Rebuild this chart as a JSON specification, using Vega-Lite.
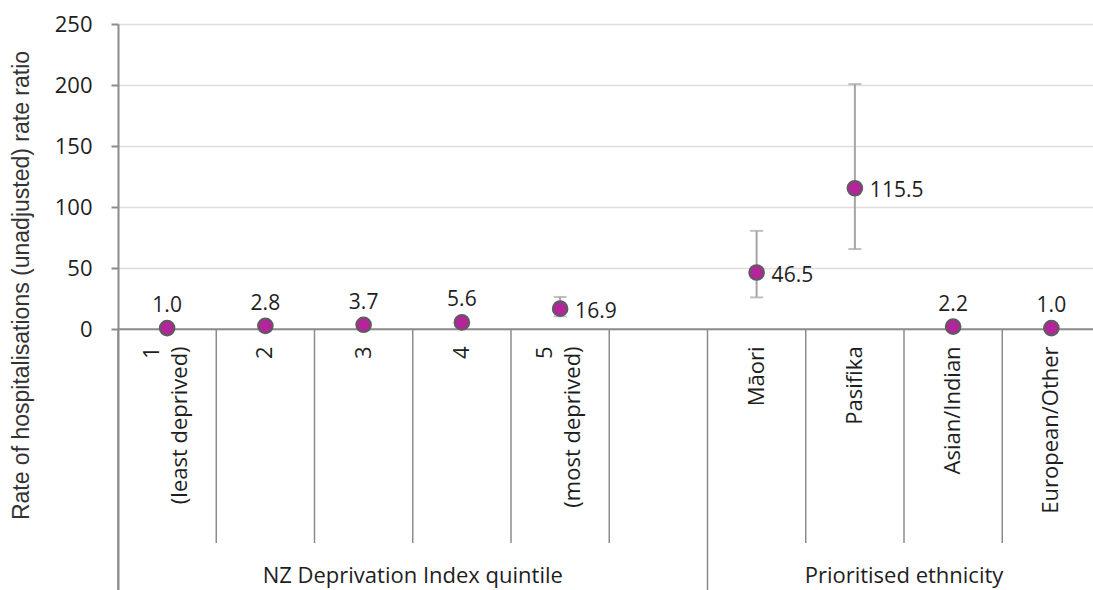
{
  "$schema": "https://vega.github.io/schema/vega-lite/v6.json",
  "width": 975,
  "height": 566,
  "autosize": {"type": "none"},
  "padding": {"left": 118, "top": 24, "right": 0, "bottom": 0},
  "background": "white",
  "config": {
    "view": {"stroke": null},
    "font": "Open Sans",
    "text": {"font": "Open Sans", "fontSize": 21, "color": "#1e1e1e"}
  },
  "datasets": {
    "rates": [
      {"category": "1\n(least deprived)", "group": "NZ Deprivation Index quintile", "pos": 1, "rr": 1.0},
      {"category": "2", "group": "NZ Deprivation Index quintile", "pos": 2, "rr": 2.8},
      {"category": "3", "group": "NZ Deprivation Index quintile", "pos": 3, "rr": 3.7},
      {"category": "4", "group": "NZ Deprivation Index quintile", "pos": 4, "rr": 5.6},
      {"category": "5\n(most deprived)", "group": "NZ Deprivation Index quintile", "pos": 5, "rr": 16.9, "lo": 10.6, "hi": 26.5},
      {"category": "Māori", "group": "Prioritised ethnicity", "pos": 7, "rr": 46.5, "lo": 26.1, "hi": 80.6},
      {"category": "Pasifika", "group": "Prioritised ethnicity", "pos": 8, "rr": 115.5, "lo": 65.7, "hi": 200.8},
      {"category": "Asian/Indian", "group": "Prioritised ethnicity", "pos": 9, "rr": 2.2},
      {"category": "European/Other", "group": "Prioritised ethnicity", "pos": 10, "rr": 1.0}
    ],
    "groups": [
      {"group": "NZ Deprivation Index quintile", "from": 0.5, "to": 6.5},
      {"group": "Prioritised ethnicity", "from": 6.5, "to": 10.5}
    ],
    "dividers": [
      {"at": 1.5}, {"at": 2.5}, {"at": 3.5}, {"at": 4.5}, {"at": 5.5},
      {"at": 7.5}, {"at": 8.5}, {"at": 9.5}
    ]
  },
  "layer": [
    {
      "description": "Value axis with gridlines",
      "data": {"name": "rates"},
      "mark": {"type": "rule", "opacity": 0},
      "encoding": {
        "y": {
          "field": "rr",
          "type": "quantitative",
          "scale": {"domain": [-213.5, 250], "nice": false, "zero": false},
          "axis": {
            "values": [0, 50, 100, 150, 200, 250],
            "title": "Rate of hospitalisations (unadjusted) rate ratio",
            "titleFont": "Liberation Sans",
            "titleFontSize": 23,
            "titleFontWeight": "normal",
            "titleColor": "#333333",
            "titleAngle": 270,
            "titleX": -97,
            "titleY": 261,
            "titleAlign": "center",
            "titleBaseline": "middle",
            "labelFont": "Open Sans",
            "labelFontSize": 22,
            "labelColor": "#1e1e1e",
            "labelPadding": 19,
            "tickSize": 7,
            "tickColor": "#8c8c8c",
            "tickWidth": 2,
            "domainColor": "#8c8c8c",
            "domainWidth": 2,
            "grid": true,
            "gridColor": "#dedede",
            "gridWidth": 1.5
          }
        }
      }
    },
    {
      "description": "Category axis line at zero",
      "data": {"values": [{"base": 0}]},
      "mark": {"type": "rule", "color": "#8c8c8c", "strokeWidth": 2},
      "encoding": {
        "y": {"field": "base", "type": "quantitative"}
      }
    },
    {
      "description": "Dividers between categories",
      "data": {"name": "dividers"},
      "mark": {"type": "rule", "color": "#8c8c8c", "strokeWidth": 1.5},
      "encoding": {
        "x": {"field": "at", "type": "quantitative", "scale": {"domain": [0.5, 10.4237], "nice": false, "zero": false}, "axis": null},
        "y": {"datum": 0, "type": "quantitative"},
        "y2": {"datum": -175}
      }
    },
    {
      "description": "Dividers between category groups",
      "data": {"name": "groups"},
      "mark": {"type": "rule", "color": "#8c8c8c", "strokeWidth": 1.5},
      "encoding": {
        "x": {"field": "from", "type": "quantitative", "scale": {"domain": [0.5, 10.4237], "nice": false, "zero": false}, "axis": null},
        "y": {"datum": 0, "type": "quantitative"},
        "y2": {"datum": -213.5}
      }
    },
    {
      "description": "Confidence intervals",
      "data": {"name": "rates"},
      "transform": [{"filter": "datum.hi != null"}],
      "mark": {"type": "rule", "color": "#a5a5a5", "strokeWidth": 2},
      "encoding": {
        "x": {"field": "pos", "type": "quantitative", "scale": {"domain": [0.5, 10.4237], "nice": false, "zero": false}, "axis": null},
        "y": {"field": "lo", "type": "quantitative"},
        "y2": {"field": "hi"}
      }
    },
    {
      "description": "Interval caps",
      "data": {"name": "rates"},
      "transform": [
        {"filter": "datum.hi != null"},
        {"fold": ["lo", "hi"], "as": ["bound", "limit"]}
      ],
      "mark": {"type": "tick", "orient": "horizontal", "size": 13, "thickness": 2, "color": "#a5a5a5"},
      "encoding": {
        "x": {"field": "pos", "type": "quantitative", "scale": {"domain": [0.5, 10.4237], "nice": false, "zero": false}, "axis": null},
        "y": {"field": "limit", "type": "quantitative"}
      }
    },
    {
      "description": "Rate ratio markers",
      "data": {"name": "rates"},
      "mark": {"type": "circle", "fill": "#b3259b", "stroke": "#5d5d5d", "strokeWidth": 2, "size": 215, "opacity": 1},
      "encoding": {
        "x": {"field": "pos", "type": "quantitative", "scale": {"domain": [0.5, 10.4237], "nice": false, "zero": false}, "axis": null},
        "y": {"field": "rr", "type": "quantitative"}
      }
    },
    {
      "description": "Value labels above markers",
      "data": {"name": "rates"},
      "transform": [{"filter": "datum.hi == null"}],
      "mark": {"type": "text", "align": "center", "baseline": "alphabetic", "dy": -16},
      "encoding": {
        "x": {"field": "pos", "type": "quantitative", "scale": {"domain": [0.5, 10.4237], "nice": false, "zero": false}, "axis": null},
        "y": {"field": "rr", "type": "quantitative"},
        "text": {"field": "rr", "type": "quantitative", "format": ".1f"}
      }
    },
    {
      "description": "Value labels beside markers with intervals",
      "data": {"name": "rates"},
      "transform": [{"filter": "datum.hi != null"}],
      "mark": {"type": "text", "align": "left", "baseline": "alphabetic", "dx": 15, "dy": 9},
      "encoding": {
        "x": {"field": "pos", "type": "quantitative", "scale": {"domain": [0.5, 10.4237], "nice": false, "zero": false}, "axis": null},
        "y": {"field": "rr", "type": "quantitative"},
        "text": {"field": "rr", "type": "quantitative", "format": ".1f"}
      }
    },
    {
      "description": "Single-line category labels",
      "data": {"name": "rates"},
      "transform": [{"filter": "indexof(datum.category, '\\n') < 0"}],
      "mark": {"type": "text", "angle": 270, "align": "right", "baseline": "middle", "fontSize": 22},
      "encoding": {
        "x": {"field": "pos", "type": "quantitative", "scale": {"domain": [0.5, 10.4237], "nice": false, "zero": false}, "axis": null},
        "y": {"datum": -14, "type": "quantitative"},
        "text": {"field": "category", "type": "nominal"}
      }
    },
    {
      "description": "Two-line category labels, centred on their slot",
      "data": {"name": "rates"},
      "transform": [{"filter": "indexof(datum.category, '\\n') >= 0"}],
      "mark": {"type": "text", "angle": 270, "align": "right", "baseline": "middle", "fontSize": 22, "lineBreak": "\n", "lineHeight": 28, "dy": -15},
      "encoding": {
        "x": {"field": "pos", "type": "quantitative", "scale": {"domain": [0.5, 10.4237], "nice": false, "zero": false}, "axis": null},
        "y": {"datum": -14, "type": "quantitative"},
        "text": {"field": "category", "type": "nominal"}
      }
    },
    {
      "description": "Group labels",
      "data": {"name": "groups"},
      "transform": [
        {"fold": ["from", "to"], "as": ["side", "edge"]},
        {"aggregate": [{"op": "mean", "field": "edge", "as": "mid"}], "groupby": ["group"]}
      ],
      "mark": {"type": "text", "align": "center", "baseline": "alphabetic", "fontSize": 22},
      "encoding": {
        "x": {"field": "mid", "type": "quantitative", "scale": {"domain": [0.5, 10.4237], "nice": false, "zero": false}, "axis": null},
        "y": {"datum": -207.7, "type": "quantitative"},
        "text": {"field": "group", "type": "nominal"}
      }
    }
  ]
}
